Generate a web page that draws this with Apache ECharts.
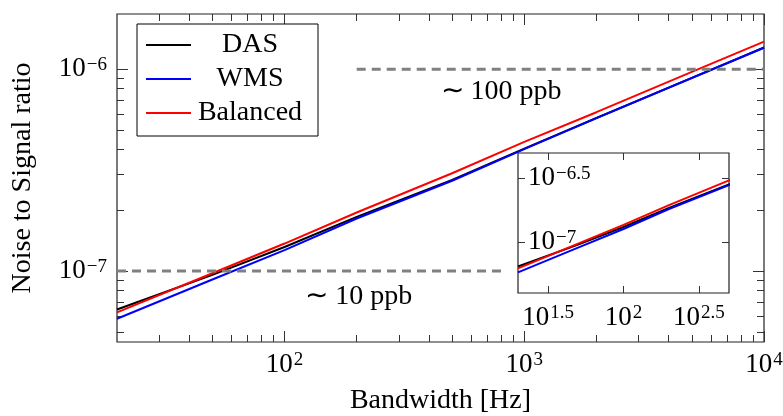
<!DOCTYPE html>
<html>
<head>
<meta charset="utf-8">
<script src="https://cdn.jsdelivr.net/npm/echarts@6/dist/echarts.min.js"></script>
<style>
  html, body { margin: 0; padding: 0; background: #fff; }
  #chart { width: 783px; height: 416px; }
</style>
</head>
<body>
<div id="chart"></div>
<script>
// bandwidth [Hz] and noise-to-signal ratio
var bandwidth = [20, 50, 100, 200, 500, 1000, 2000, 5000, 10000];
var das      = [6.45e-8, 9.57e-8, 1.315e-7, 1.855e-7, 2.83e-7, 4.04e-7, 5.73e-7, 9.05e-7, 1.28e-6];
var wms      = [5.8e-8, 9.08e-8, 1.27e-7, 1.82e-7, 2.80e-7, 4.02e-7, 5.72e-7, 9.04e-7, 1.277e-6];
var balanced = [6.24e-8, 9.75e-8, 1.368e-7, 1.95e-7, 3.05e-7, 4.36e-7, 6.12e-7, 9.7e-7, 1.37e-6];

// reference levels (dashed)
var levelValue = [1e-7, 1e-6];
var levelFrom = [20, 200];
var levelTo = [800, 10000];
var levelText = ['∼ 10 ppb', '∼ 100 ppb'];
var levelTextAt = [200, 800];

// axes ranges and ticks
var xRange = [20, 10000];
var yRange = [4.45e-8, 1.876e-6];
var xMajor = [100, 1000, 10000];
var xMinor = [30, 40, 50, 60, 70, 80, 90, 200, 300, 400, 500, 600, 700, 800, 900, 2000, 3000, 4000, 5000, 6000, 7000, 8000, 9000];
var yMajor = [1e-7, 1e-6];
var yMinor = [5e-8, 6e-8, 7e-8, 8e-8, 9e-8, 2e-7, 3e-7, 4e-7, 5e-7, 6e-7, 7e-7, 8e-7, 9e-7];
var insetXRange = [20, 500];
var insetYRange = [4e-8, 5e-7];
var insetXTicks = [1.5, 2, 2.5];   // exponents
var insetYTicks = [-7, -6.5];      // exponents

var FONT = '"Liberation Serif", "Times New Roman", serif';
var lg = Math.log10;

function pow10Label(v) {
  var e = Math.round(v * 10) / 10;
  return '{b|10}{s|' + String(e).replace('-', '−') + '}';
}
var rich = {
  b: { fontFamily: FONT, fontSize: 27, color: '#000', lineHeight: 30 },
  s: { fontFamily: FONT, fontSize: 19, color: '#000', lineHeight: 19, verticalAlign: 'top', padding: [1, 0, 0, 1] }
};

function pts(ys) {
  return bandwidth.map(function (b, i) { return [lg(b), lg(ys[i])]; });
}

function axis(grid, pos, range, ticks, len, extra) {
  var a = {
    type: 'value', gridIndex: grid, position: pos,
    min: lg(range[0]), max: lg(range[1]),
    axisLine: { show: false },
    splitLine: { show: false },
    axisTick: { show: true, inside: true, length: len, customValues: ticks,
      lineStyle: { color: '#333', width: 1 } },
    axisLabel: { show: false }
  };
  return Object.assign(a, extra || {});
}

var chart = echarts.init(document.getElementById('chart'));

var colors = { DAS: '#000000', WMS: '#0000ff', Balanced: '#ff0000' };
var sets = [['DAS', das], ['WMS', wms], ['Balanced', balanced]];
var series = [];

sets.forEach(function (s) {
  series.push({
    name: s[0], type: 'line', xAxisIndex: 0, yAxisIndex: 0,
    data: pts(s[1]), showSymbol: false, symbol: 'none',
    lineStyle: { width: 2, color: colors[s[0]] }, itemStyle: { color: colors[s[0]] }
  });
});

levelValue.forEach(function (v, i) {
  series.push({
    type: 'line', xAxisIndex: 0, yAxisIndex: 0, symbol: 'none', silent: true,
    data: [[lg(levelFrom[i]), lg(v)], [lg(levelTo[i]), lg(v)]],
    lineStyle: { color: '#808080', width: 3, type: [9, 6] },
    markPoint: {
      symbol: 'circle', symbolSize: 0, silent: true,
      data: [{ coord: [lg(levelTextAt[i]), lg(v)] }],
      label: { show: true, formatter: levelText[i], fontFamily: FONT, fontSize: 28, color: '#000',
        offset: i === 0 ? [2, 26] : [0, 22] }
    }
  });
});

sets.forEach(function (s) {
  series.push({
    name: s[0], type: 'line', xAxisIndex: 4, yAxisIndex: 4,
    data: pts(s[1]), showSymbol: false, symbol: 'none', clip: true,
    lineStyle: { width: 2, color: colors[s[0]] }, itemStyle: { color: colors[s[0]] }
  });
});

var option = {
  animation: false,
  backgroundColor: '#fff',
  grid: [
    { left: 117, top: 14, right: 19, bottom: 74, show: true, borderColor: '#222', borderWidth: 1.2,
      backgroundColor: 'transparent', containLabel: false, outerBoundsMode: 'none' },
    { left: 518, top: 153, right: 54, bottom: 123, show: true, borderColor: '#222', borderWidth: 1.2,
      backgroundColor: '#fff', containLabel: false, outerBoundsMode: 'none' }
  ],
  legend: {
    data: ['DAS', 'WMS', 'Balanced'],
    orient: 'vertical', left: 137, top: 24,
    padding: [7, 14, 9, 9], itemGap: 6,
    itemWidth: 45, itemHeight: 2, icon: 'rect',
    borderColor: '#000', borderWidth: 1, backgroundColor: '#fff',
    formatter: '{c|{name}}',
    textStyle: { rich: { c: { fontFamily: FONT, fontSize: 28, color: '#000', width: 108, align: 'center', lineHeight: 28 } } }
  },
  xAxis: [
    axis(0, 'bottom', xRange, xMajor.map(lg), 11, {
      name: 'Bandwidth [Hz]', nameLocation: 'middle', nameGap: 45,
      nameTextStyle: { fontFamily: FONT, fontSize: 28, color: '#000' },
      axisLabel: { show: true, margin: 8, customValues: xMajor.map(lg), formatter: pow10Label, rich: rich }
    }),
    axis(0, 'bottom', xRange, xMinor.map(lg), 7),
    axis(0, 'top', xRange, xMajor.map(lg), 11),
    axis(0, 'top', xRange, xMinor.map(lg), 7),
    axis(1, 'bottom', insetXRange, insetXTicks, 7, {
      axisLabel: { show: true, margin: 10, customValues: insetXTicks, formatter: pow10Label, rich: rich }
    }),
    axis(1, 'top', insetXRange, insetXTicks, 7)
  ],
  yAxis: [
    axis(0, 'left', yRange, yMajor.map(lg), 11, {
      name: 'Noise to Signal ratio', nameLocation: 'middle', nameGap: 80,
      nameTextStyle: { fontFamily: FONT, fontSize: 28, color: '#000' },
      axisLabel: { show: true, margin: 10, customValues: yMajor.map(lg), formatter: pow10Label, rich: rich }
    }),
    axis(0, 'left', yRange, yMinor.map(lg), 7),
    axis(0, 'right', yRange, yMajor.map(lg), 11),
    axis(0, 'right', yRange, yMinor.map(lg), 7),
    axis(1, 'left', insetYRange, insetYTicks, 7, {
      axisLabel: { show: true, inside: true, margin: 10, customValues: insetYTicks, formatter: pow10Label, rich: rich }
    }),
    axis(1, 'right', insetYRange, insetYTicks, 7)
  ],
  series: series
};

chart.setOption(option);
</script>
</body>
</html>
